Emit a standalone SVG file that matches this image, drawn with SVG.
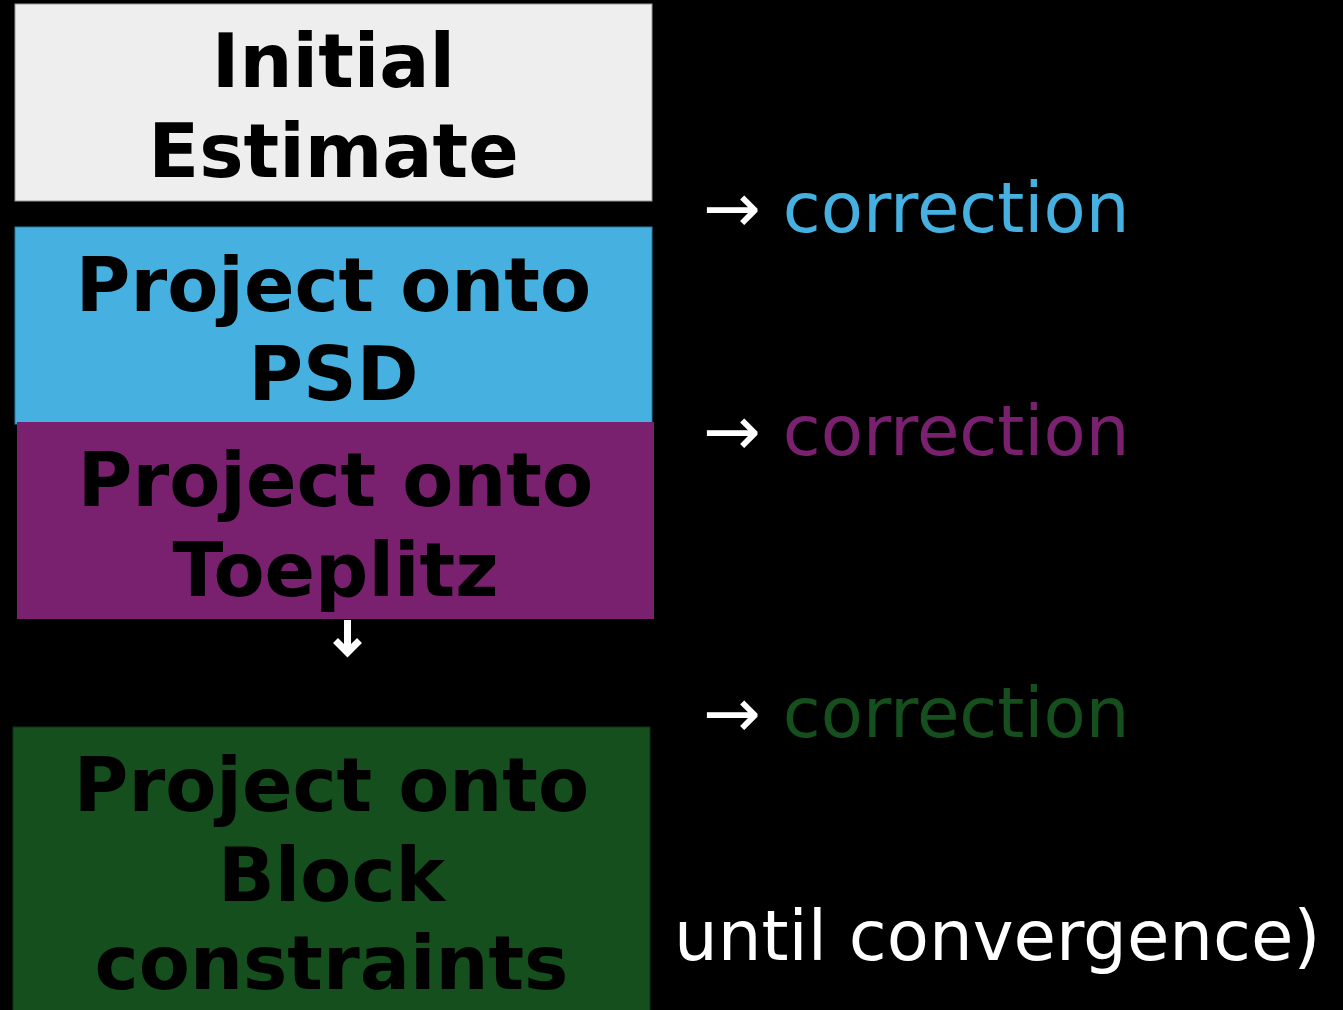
<svg xmlns="http://www.w3.org/2000/svg" width="1343" height="1010" viewBox="0 0 1343 1010">
<style>
.lbl{font-family:"DejaVu Sans",sans-serif;font-weight:bold;font-size:74.5px;fill:#000;text-anchor:middle}
.side{font-family:"DejaVu Sans",sans-serif;font-size:69px}
</style>
<rect x="0" y="0" width="1343" height="1010" fill="#000"/>
<g id="connectors" fill="none" stroke="#fff" stroke-width="7">
<path d="M347.5 620 V652"/>
<path d="M335.5 640.5 L347.5 652.5 L359.5 640.5" stroke-linejoin="miter"/>
</g>
<g id="note-until">
<text class="side" x="674" y="960" font-size="70.1" fill="#fff">until convergence)</text>
</g>
<g id="node-initial">
<rect x="15" y="4" width="637" height="197" fill="#eeeeee" stroke="#999" stroke-width="1"/>
<text class="lbl" x="333.5" y="87">Initial</text>
<text class="lbl" x="333.5" y="177">Estimate</text>
</g>
<g id="node-psd">
<rect x="15" y="227" width="637" height="197" fill="#46b0e0" stroke="#2a7fa8" stroke-width="1"/>
<text class="lbl" x="333.5" y="311">Project onto</text>
<text class="lbl" x="333.5" y="400">PSD</text>
</g>
<g id="node-toeplitz">
<rect x="17" y="422" width="637" height="197" fill="#79206e"/>
<text class="lbl" x="335.5" y="506">Project onto</text>
<text class="lbl" x="335.5" y="596">Toeplitz</text>
</g>
<g id="node-block">
<rect x="13" y="727" width="637" height="300" fill="#154f1d" stroke="#0c3512" stroke-width="1"/>
<text class="lbl" x="331.5" y="811">Project onto</text>
<text class="lbl" x="331.5" y="901">Block</text>
<text class="lbl" x="331.5" y="989">constraints</text>
</g>
<g id="corrections">
<text class="side" x="703" y="232"><tspan fill="#fff">→ </tspan><tspan fill="#46b0e0">correction</tspan></text>
<text class="side" x="703" y="455"><tspan fill="#fff">→ </tspan><tspan fill="#79206e">correction</tspan></text>
<text class="side" x="703" y="737"><tspan fill="#fff">→ </tspan><tspan fill="#154f1d">correction</tspan></text>
</g>
</svg>
